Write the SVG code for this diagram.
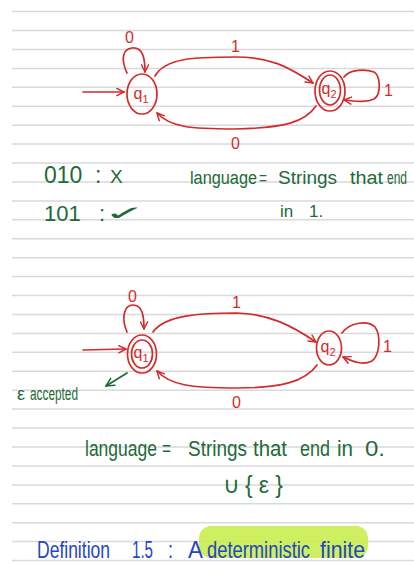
<svg xmlns="http://www.w3.org/2000/svg" width="414" height="565" viewBox="0 0 414 565">
<style>
.rule{stroke:#d9d9dc;stroke-width:1.5;fill:none}
.st{fill:none;stroke:#d32b2b;stroke-width:1.7;stroke-linecap:round;stroke-linejoin:round}
.lbl{font-family:"Liberation Sans",Arial,sans-serif;font-size:16px;fill:#d32b2b}
.q{font-family:"Liberation Sans",Arial,sans-serif;font-size:16px;fill:#d32b2b;text-anchor:middle}
.g{font-family:"Liberation Sans",Arial,sans-serif;fill:#1e6b38}
.b{font-family:"Liberation Sans",Arial,sans-serif;fill:#2346c8;font-size:18px}
.gs{fill:none;stroke:#1e6b38;stroke-width:1.8;stroke-linecap:round;stroke-linejoin:round}
</style>
<defs>
<marker id="ah" viewBox="0 0 10 10" refX="9" refY="5" markerWidth="9" markerHeight="9" markerUnits="userSpaceOnUse" orient="auto">
<path d="M1,1 L9,5 L1,9" fill="none" stroke="#d32b2b" stroke-width="1.6" stroke-linecap="round" stroke-linejoin="round"/>
</marker>
<marker id="ahg" viewBox="0 0 10 10" refX="9" refY="5" markerWidth="10" markerHeight="10" markerUnits="userSpaceOnUse" orient="auto">
<path d="M1,1 L9,5 L1,9" fill="none" stroke="#1e6b38" stroke-width="1.6" stroke-linecap="round" stroke-linejoin="round"/>
</marker>
</defs>
<rect width="414" height="565" fill="#ffffff"/>
<path class="rule" d="M12,11.6H414M12,30.5H414M12,49.5H414M12,68.4H414M12,87.3H414M12,106.3H414M12,125.2H414M12,144.1H414M12,163H414M12,182H414M12,200.9H414M12,219.8H414M12,238.8H414M12,257.7H414M12,276.6H414M12,295.6H414M12,314.5H414M12,333.4H414M12,352.3H414M12,371.3H414M12,390.2H414M12,409.1H414M12,428.1H414M12,447H414M12,465.9H414M12,484.9H414M12,503.8H414M12,522.7H414M12,541.6H414M12,560.6H414"/>

<!-- highlight -->
<rect x="199" y="526" width="169" height="32" rx="12" fill="#c9ee4f" opacity="0.9"/>

<!-- FSM 1 nodes -->
<g id="fsm1-q1">
<ellipse class="st" cx="142" cy="94" rx="15" ry="20"/>
<text class="q" x="141" y="99">q<tspan font-size="11" dy="4">1</tspan></text>
</g>
<g id="fsm1-q2">
<ellipse class="st" cx="330" cy="91" rx="15" ry="20"/>
<ellipse class="st" cx="330" cy="90" rx="10.5" ry="15"/>
<text class="q" x="329" y="94">q<tspan font-size="11" dy="4">2</tspan></text>
</g>

<!-- FSM 1 connectors -->
<g id="fsm1-edges">
<path class="st" d="M83,92 L124,92" marker-end="url(#ah)"/>
<path class="st" d="M127,73 C121,60 122,49 132,48 C142,47 145,56 145,72" marker-end="url(#ah)"/>
<path class="st" d="M155,76 C165,58 195,57 235,57 C270,57 287,66 313,83" marker-end="url(#ah)"/>
<path class="st" d="M344,77 C350,69 366,69 374,72 C381,76 381,95 374,99 C366,103 355,101 344,100" marker-end="url(#ah)"/>
<path class="st" d="M316,106 C305,122 285,128 235,129 C190,129 170,127 157,113" marker-end="url(#ah)"/>
<text class="lbl" x="125" y="43">0</text>
<text class="lbl" x="231" y="52">1</text>
<text class="lbl" x="231" y="149">0</text>
<text class="lbl" x="384" y="96">1</text>
</g>

<!-- green notes 1 -->
<g id="notes1">
<text class="g" font-size="23" y="183"><tspan x="44">010</tspan><tspan x="95">:</tspan><tspan x="110" font-size="19">X</tspan></text>
<text class="g" font-size="22" y="221"><tspan x="44">101</tspan><tspan x="99">:</tspan></text>
<text class="g" font-family="DejaVu Sans" font-size="28" transform="translate(104,220) scale(1.8,0.72)">✓</text>
<g transform="translate(0,184) scale(1,1.1)">
<text class="g" font-size="16" y="0"><tspan x="190" textLength="67" lengthAdjust="spacingAndGlyphs">language</tspan><tspan x="259" textLength="8" lengthAdjust="spacingAndGlyphs">=</tspan><tspan x="278" textLength="59" lengthAdjust="spacingAndGlyphs">Strings</tspan><tspan x="350" textLength="33" lengthAdjust="spacingAndGlyphs">that</tspan><tspan x="387" textLength="20" lengthAdjust="spacingAndGlyphs">end</tspan></text>
</g>
<text class="g" font-size="17" y="217"><tspan x="280">in</tspan><tspan x="309">1.</tspan></text>
</g>

<!-- FSM 2 nodes -->
<g id="fsm2-q1">
<ellipse class="st" cx="142" cy="354" rx="14.5" ry="19"/>
<ellipse class="st" cx="142" cy="354" rx="10.5" ry="14"/>
<text class="q" x="141" y="358">q<tspan font-size="11" dy="4">1</tspan></text>
</g>
<g id="fsm2-q2">
<ellipse class="st" cx="329" cy="348" rx="12.5" ry="17"/>
<text class="q" x="328" y="352">q<tspan font-size="11" dy="4">2</tspan></text>
</g>

<!-- FSM 2 connectors -->
<g id="fsm2-edges">
<path class="st" d="M83,350 L126,349" marker-end="url(#ah)"/>
<path class="st" d="M127,332 C121,318 124,305 133,305 C142,305 144,315 144,329" marker-end="url(#ah)"/>
<path class="st" d="M153,332 C165,315 200,313 237,313 C270,314 292,326 316,342" marker-end="url(#ah)"/>
<path class="st" d="M342,333 C350,322 368,320 375,327 C381,335 380,355 372,361 C362,366 352,361 343,357" marker-end="url(#ah)"/>
<path class="st" d="M317,365 C305,382 280,388 237,388 C190,388 170,385 157,371" marker-end="url(#ah)"/>
<text class="lbl" x="128" y="302">0</text>
<text class="lbl" x="232" y="308">1</text>
<text class="lbl" x="232" y="408">0</text>
<text class="lbl" x="383" y="352">1</text>
</g>

<!-- green notes 2 -->
<g id="notes2">
<path class="gs" d="M127,373 L106,386" marker-end="url(#ahg)"/>
<text class="g" font-size="18" y="400"><tspan x="17">ε</tspan><tspan x="30" textLength="48" lengthAdjust="spacingAndGlyphs">accepted</tspan></text>
<g transform="translate(0,456) scale(1,1.25)">
<text class="g" font-size="18" y="0"><tspan x="85" textLength="72" lengthAdjust="spacingAndGlyphs">language</tspan><tspan x="162" textLength="9" lengthAdjust="spacingAndGlyphs">=</tspan><tspan x="188" textLength="59" lengthAdjust="spacingAndGlyphs">Strings</tspan><tspan x="253" textLength="34" lengthAdjust="spacingAndGlyphs">that</tspan><tspan x="300" textLength="30" lengthAdjust="spacingAndGlyphs">end</tspan><tspan x="337" textLength="16" lengthAdjust="spacingAndGlyphs">in</tspan><tspan x="365" textLength="20" lengthAdjust="spacingAndGlyphs">0.</tspan></text>
</g>
<text class="g" font-size="23" y="493"><tspan x="223">∪</tspan><tspan x="245" textLength="38" lengthAdjust="spacing">{ε}</tspan></text>
</g>

<!-- blue definition -->
<g id="definition">
<g transform="translate(0,558) scale(1,1.3)">
<text class="b" y="0"><tspan x="37" textLength="73" lengthAdjust="spacingAndGlyphs">Definition</tspan><tspan x="132" textLength="21" lengthAdjust="spacingAndGlyphs">1.5</tspan><tspan x="168">:</tspan><tspan x="188" textLength="15" lengthAdjust="spacingAndGlyphs">A</tspan><tspan x="207" textLength="103" lengthAdjust="spacingAndGlyphs">deterministic</tspan><tspan x="320" textLength="45" lengthAdjust="spacingAndGlyphs">finite</tspan></text>
</g>
</g>
</svg>
